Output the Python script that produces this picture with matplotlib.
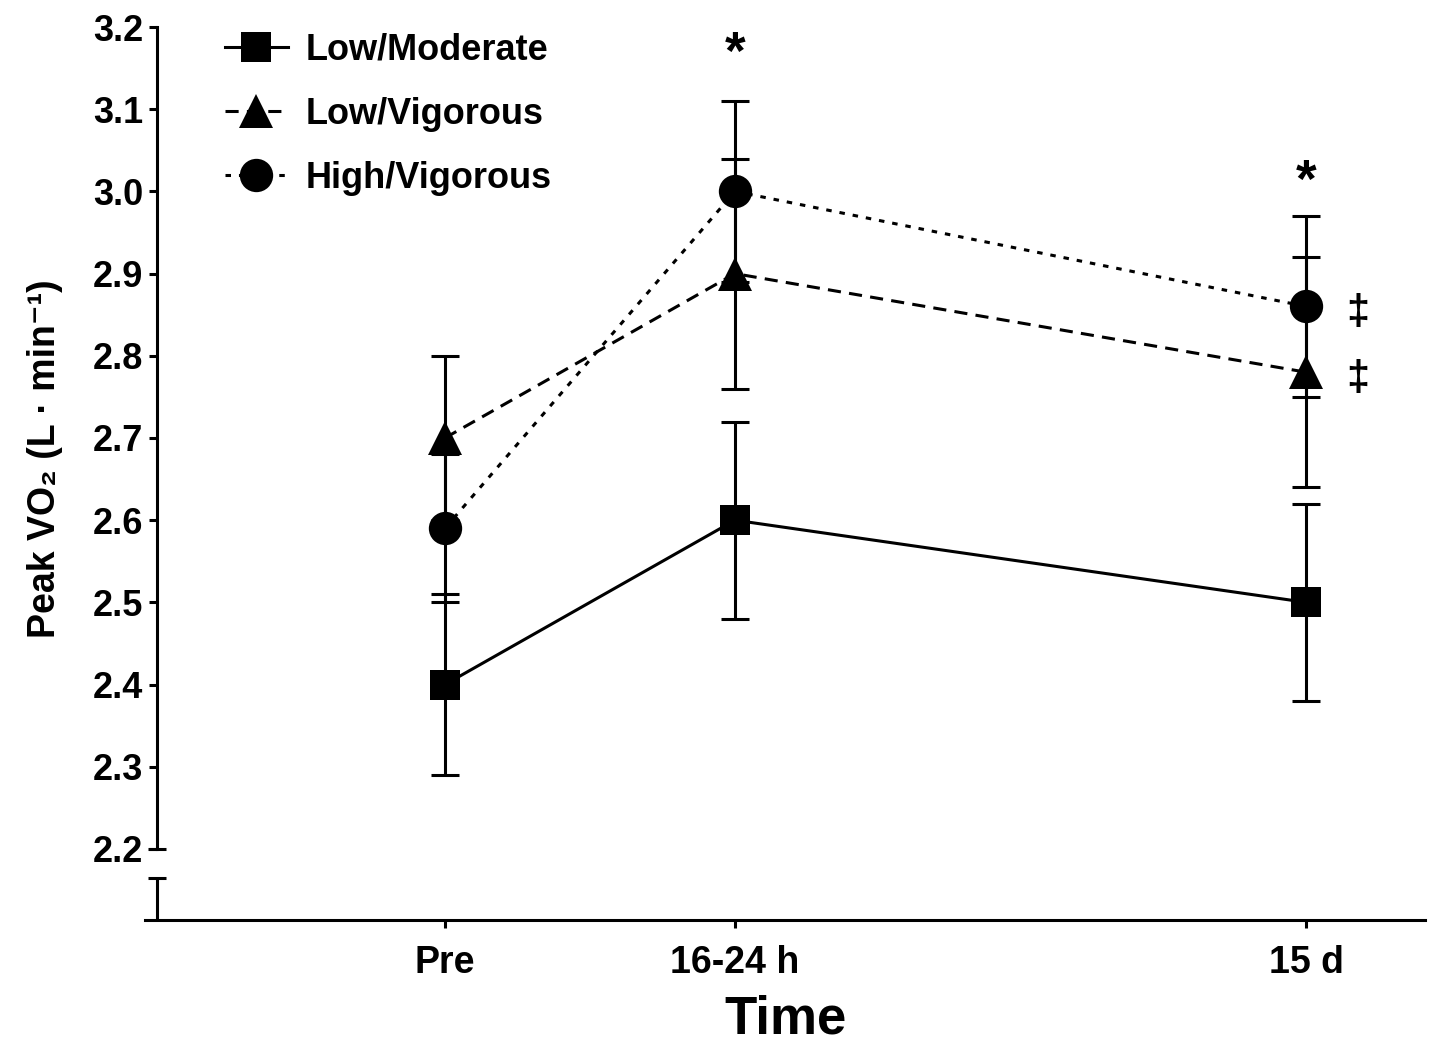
import matplotlib
matplotlib.use("Agg")
import matplotlib.pyplot as plt
from matplotlib.lines import Line2D

plt.rcParams['font.family'] = ['Liberation Sans', 'DejaVu Sans']
plt.rcParams['font.weight'] = 'bold'
plt.rcParams['axes.labelweight'] = 'bold'

# peak VO2 (L/min), mean and SD per group
time_labels = ["Pre", "16-24 h", "15 d"]
low_moderate = [2.40, 2.60, 2.50]
low_moderate_sd = [0.11, 0.12, 0.12]
low_vigorous = [2.70, 2.90, 2.78]
low_vigorous_sd = [0.10, 0.14, 0.14]
high_vigorous = [2.59, 3.00, 2.86]
high_vigorous_sd = [0.09, 0.11, 0.11]
group_names = ["Low/Moderate", "Low/Vigorous", "High/Vigorous"]
sig_star_y = [3.166, 3.01]   # "*" markers over 16-24 h and 15 d

x_pos = [0, 1, 2.97]
y_ticks = [2.2, 2.3, 2.4, 2.5, 2.6, 2.7, 2.8, 2.9, 3.0, 3.1, 3.2]

fig = plt.figure(figsize=(14.41, 10.44), dpi=100)
ax = fig.add_axes([0.1006, 0.1188, 0.8885, 0.8553])

lw = 2.2
styles = [
    dict(marker="s", linestyle="-", ms=22),
    dict(marker="^", linestyle=(0, (4.3, 2.7)), ms=24),
    dict(marker="o", linestyle=(0, (1.8, 2.6)), ms=24),
]
series = [(low_moderate, low_moderate_sd), (low_vigorous, low_vigorous_sd),
          (high_vigorous, high_vigorous_sd)]

for (vals, sd), st in zip(series, styles):
    ax.errorbar(x_pos, vals, yerr=sd, fmt="none", ecolor="black", elinewidth=lw,
                capsize=10, capthick=lw, zorder=2)
    ax.plot(x_pos, vals, color="black", lw=lw, linestyle=st["linestyle"],
            marker=st["marker"], markersize=st["ms"], markeredgewidth=0, zorder=3)

# significance marks
for xi, yi in zip(x_pos[1:], sig_star_y):
    ax.text(xi, yi, "*", ha="center", va="center", fontsize=38)
for vals in (high_vigorous, low_vigorous):
    ax.annotate("\u2021", (x_pos[2], vals[2]), xytext=(37, -5), textcoords="offset points",
                ha="center", va="center", fontsize=30)

# axes with a break below 2.2
y_bottom = 2.1136
stub_top = 2.1647
spine_x = -0.993
ax.set_xlim(-1.034, 3.38)
ax.set_ylim(y_bottom, 3.2)
ax.spines["top"].set_visible(False)
ax.spines["right"].set_visible(False)
ax.spines["left"].set_position(("data", spine_x))
ax.spines["left"].set_bounds(2.2, 3.2)
for s in ("left", "bottom"):
    ax.spines[s].set_linewidth(lw)
ax.plot([spine_x, spine_x], [y_bottom, stub_top], color="black", lw=lw,
        clip_on=False, solid_capstyle="butt")
ax.plot([spine_x, spine_x], [2.2, stub_top], color="black", marker="_", ms=13,
        mew=lw, linestyle="none", clip_on=False)

ax.set_yticks(y_ticks)
ax.set_yticklabels([f"{t:.1f}" for t in y_ticks])
ax.set_xticks(x_pos)
ax.set_xticklabels(time_labels)
ax.tick_params(axis="both", length=6, width=lw, pad=4)
ax.tick_params(axis="y", labelsize=26)
ax.tick_params(axis="x", labelsize=27, pad=12)

ax.set_xlabel("Time", fontsize=38, labelpad=10)
ax.set_ylabel("Peak VO\u2082 (L \u00b7 min\u207b\u00b9)", fontsize=27)
ax.yaxis.set_label_coords(-0.064, 0.517)

handles = [Line2D([], [], color="black", lw=lw, linestyle=st["linestyle"],
                  marker=st["marker"], markersize=st["ms"], markeredgewidth=0)
           for st in styles]
ax.legend(handles, group_names, loc="upper left", bbox_to_anchor=(0.037, 1.03),
          frameon=False, fontsize=26, handlelength=1.75, handletextpad=0.5,
          labelspacing=0.8)

fig.savefig("out.png", dpi=100)
